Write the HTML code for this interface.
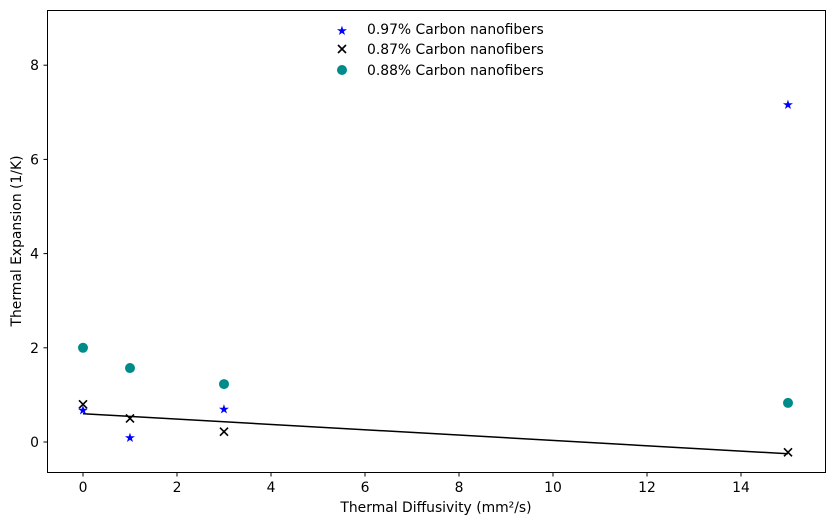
<!DOCTYPE html>
<html><head><meta charset="utf-8"><style>
body{margin:0;background:#fff;font-family:"Liberation Sans","DejaVu Sans",sans-serif;}
svg text{font-family:"DejaVu Sans","Liberation Sans",sans-serif;font-size:13.9px;fill:#000}
</style></head><body>
<svg id="chart" width="833" height="525">
<rect x="0" y="0" width="833" height="525" fill="#fff"/>
<g id="marks"></g>
<rect x="47.5" y="10.5" width="778" height="462" fill="none" stroke="#000" stroke-width="1"/>
<g id="axes"></g>
<text x="436" y="512" text-anchor="middle">Thermal Diffusivity (mm²/s)</text>
<text transform="translate(21,241) rotate(-90)" text-anchor="middle">Thermal Expansion (1/K)</text>
<g>
<text x="342" y="35" text-anchor="middle" style="fill:blue;font-size:13px">★</text>
<text x="367" y="34">0.97% Carbon nanofibers</text>
<path d="M338,45 l8,8 M346,45 l-8,8" stroke="#000" stroke-width="1.6"/>
<text x="367" y="54">0.87% Carbon nanofibers</text>
<circle cx="342" cy="70" r="5" fill="#008b8b"/>
<text x="367" y="75">0.88% Carbon nanofibers</text>
</g>
</svg>
<script>
const xs = [0, 1, 3, 15];
const series097 = [0.68, 0.1, 0.7, 7.17];
const series087 = [0.8, 0.5, 0.22, -0.22];
const series088 = [2.0, 1.57, 1.23, 0.83];
const fitLineX = [0, 15];
const fitLineY = [0.6, -0.25];
const xTicks = [0, 2, 4, 6, 8, 10, 12, 14];
const yTicks = [0, 2, 4, 6, 8];
const NS = "http://www.w3.org/2000/svg";
const X = v => 83 + v * 47.0;
const Y = v => 442 - v * 47.1;
const marks = document.getElementById('marks');
const axes = document.getElementById('axes');
function mk(tag, attrs, parent){const e=document.createElementNS(NS,tag);for(const k in attrs)e.setAttribute(k,attrs[k]);parent.appendChild(e);return e;}
xTicks.forEach(t=>{
  const l=mk('line',{x1:X(t),x2:X(t),y1:472.5,y2:476.5,stroke:'#000'},axes);
  
  
  const tx=mk('text',{x:X(t),y:492,'text-anchor':'middle'},axes);tx.textContent=t;
  
  
});
yTicks.forEach(t=>{
  const l=mk('line',{x1:43.5,x2:47.5,y1:Y(t),y2:Y(t),stroke:'#000'},axes);
  
  
  const tx=mk('text',{x:39,y:Y(t)+5,'text-anchor':'end'},axes);tx.textContent=t;
  
  
});
const fl=mk('line',{x1:X(fitLineX[0]),y1:Y(fitLineY[0]),x2:X(fitLineX[1]),y2:Y(fitLineY[1]),stroke:'#000','stroke-width':1.5},marks);


xs.forEach((x,i)=>{
  const c=mk('circle',{cx:X(x),cy:Y(series088[i]),r:5,fill:'#008b8b'},marks);
  
  
});
xs.forEach((x,i)=>{
  const px=X(x),py=Y(series087[i]);
  const p=mk('path',{d:`M${px-4},${py-4} L${px+4},${py+4} M${px+4},${py-4} L${px-4},${py+4}`,stroke:'#000','stroke-width':1.6},marks);
  
  
});
xs.forEach((x,i)=>{
  const t=mk('text',{x:X(x),y:Y(series097[i])+4.5,'text-anchor':'middle',style:'fill:blue;font-size:13px'},marks);t.textContent='★';
  
  
});
</script>
</body></html>
